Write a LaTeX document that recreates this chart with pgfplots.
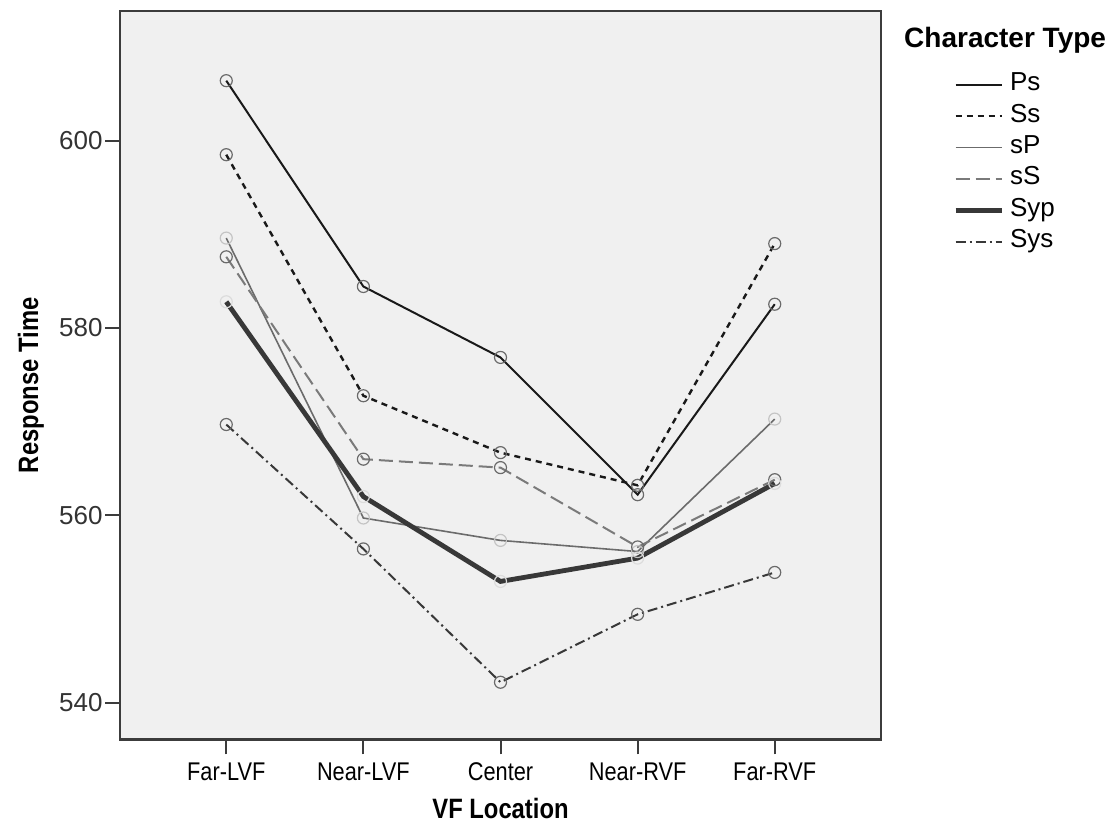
\documentclass[border=0pt]{standalone}
\usepackage{pgfplots}
\pgfplotsset{compat=1.18}
\usepackage{fontspec}
\setmainfont{Liberation Sans}
\newfontfamily\narrowfont[FakeStretch=0.85]{Liberation Sans}
\definecolor{bggray}{HTML}{F0F0F0}
\definecolor{axisgray}{HTML}{3C3C3C}
\definecolor{markdark}{HTML}{6A6A6A}
\definecolor{marklight}{HTML}{C4C4C4}
\definecolor{markvlight}{HTML}{DCDCDC}
\begin{document}
\begin{tikzpicture}
\useasboundingbox (0,0) rectangle (560bp,414bp);
\begin{axis}[
  at={(60bp,44.35bp)}, anchor=south west,
  scale only axis, width=380.5bp, height=364.2bp,
  xmin=-0.775, xmax=4.775, ymin=536.1, ymax=613.85,
  xtick={0,1,2,3,4},
  xticklabels={Far-LVF,Near-LVF,Center,Near-RVF,Far-RVF},
  ytick={540,560,580,600},
  tick align=outside, xtick pos=bottom, ytick pos=left,
  major tick length=7.5bp,
  tick style={color=axisgray, line width=1bp},
  axis line style={color=axisgray, line width=1.2bp},
  axis background/.style={fill=bggray},
  /pgf/number format/assume math mode=true,
  yticklabel style={font=\fontsize{13bp}{15bp}\selectfont, text=black!80, inner sep=1bp},
  xticklabel style={font=\narrowfont\fontsize{12.8bp}{14bp}\selectfont, text=black, text height=9.5bp, text depth=2.5bp},
  xlabel={VF Location}, ylabel={Response Time},
  xlabel style={font=\narrowfont\bfseries\fontsize{14bp}{16bp}\selectfont, at={(axis description cs:0.5,-0.0956)}, anchor=center},
  ylabel style={font=\narrowfont\bfseries\fontsize{14bp}{16bp}\selectfont, at={(axis description cs:-0.117,0.486)}, anchor=center},
  legend style={at={(axis description cs:1.0945,0.917)}, anchor=north west, draw=none, fill=none, inner sep=0pt,
    font=\fontsize{13bp}{15bp}\selectfont, row sep=2.7bp,
    nodes={text height=9bp, text depth=3bp, inner sep=0.5bp},
    /tikz/every odd column/.append style={column sep=2.5bp}},
  legend cell align=left,
  legend image code/.code={\draw[#1] (0bp,0bp) -- (23bp,0bp);},
  every axis plot/.append style={mark=o, mark size=3bp},
  clip=false,
]
\addplot[color=black!90, line width=1bp, mark options={solid, draw=markdark, line width=0.6bp}]
  coordinates {(0,606.4) (1,584.43) (2,576.86) (3,562.21) (4,582.54)};
\addlegendentry{Ps}
\addplot[color=black!90, line width=1.2bp, dash pattern=on 3bp off 2.5bp, mark options={solid, draw=markdark, line width=0.6bp}]
  coordinates {(0,598.5) (1,572.77) (2,566.70) (3,563.21) (4,589.01)};
\addlegendentry{Ss}
\addplot[color=black!58, line width=0.8bp, mark options={solid, draw=marklight, line width=0.6bp}]
  coordinates {(0,589.6) (1,559.72) (2,557.33) (3,556.14) (4,570.28)};
\addlegendentry{sP}
\addplot[color=black!52, line width=1bp, dash pattern=on 7bp off 3bp, mark options={solid, draw=markdark, line width=0.6bp}]
  coordinates {(0,587.6) (1,566.00) (2,565.10) (3,556.63) (4,563.81)};
\addlegendentry{sS}
\addplot[color=black!78, line width=2.4bp, mark options={solid, draw=markvlight, line width=0.6bp}]
  coordinates {(0,582.8) (1,562.01) (2,552.95) (3,555.44) (4,563.41)};
\addlegendentry{Syp}
\addplot[color=black!78, line width=1bp, dash pattern=on 5bp off 2bp on 1bp off 2bp, mark options={solid, draw=markdark, line width=0.6bp}]
  coordinates {(0,569.7) (1,556.42) (2,542.19) (3,549.44) (4,553.91)};
\addlegendentry{Sys}
\node[anchor=west, font=\bfseries\fontsize{14bp}{16bp}\selectfont, inner sep=0pt] at (axis description cs:1.030,0.960) {Character Type};
\end{axis}
\end{tikzpicture}
\end{document}
